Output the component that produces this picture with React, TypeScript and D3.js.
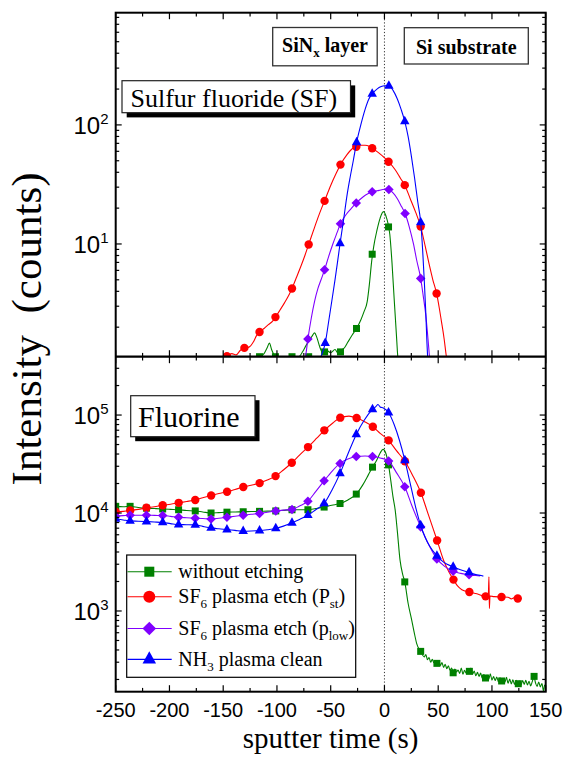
import React from "react";
import * as d3 from "d3";

type P = [number, number];

// ---------- Data (sputter time s, counts) ----------
const xTickValues = [-250, -200, -150, -100, -50, 0, 50, 100, 150];
const topDecades = [1, 2];
const botDecades = [3, 4, 5];

// Top panel: Sulfur fluoride (SF)
const sfNoEtchLine: P[] = [
  [-121, 1.0], [-117, 1.12], [-112, 1.2], [-109, 1.35], [-107, 1.47], [-105, 1.3], [-102, 1.15], [-98, 1.1],
  [-92, 1.08], [-86, 1.1], [-80, 1.12], [-76, 1.25], [-73, 1.4], [-70, 1.55], [-67, 1.7], [-65, 1.79],
  [-63, 1.65], [-60, 1.35], [-57, 1.2], [-54, 1.28], [-50, 1.22], [-46, 1.3], [-43, 1.2], [-40, 1.28],
  [-37, 1.35], [-34, 1.5], [-30, 1.72], [-26, 1.95], [-22, 2.3], [-19, 2.7], [-16, 3.3], [-14, 4.6],
  [-12, 7.0], [-10, 9.5], [-7, 13], [-4, 16.5], [-1, 18.7], [2, 16.5], [5, 12], [7, 7], [9, 3.5],
  [11, 1.8], [12.5, 1.1], [13.5, 0.9],
];
const sfNoEtchMarks: P[] = [
  [-116.2, 1.13], [-101.4, 1.13], [-86, 1.13], [-70.5, 1.13], [-55.7, 1.24], [-40.9, 1.24], [-26, 1.95],
  [-11.4, 8.2], [3.8, 13.9],
];
const sfStLine: P[] = [
  [-156, 1.0], [-150, 1.08], [-146.5, 1.14], [-142, 1.2], [-138, 1.17], [-134, 1.28], [-130.3, 1.34],
  [-126, 1.36], [-122, 1.5], [-119, 1.7], [-116.2, 1.82], [-112, 1.95], [-108, 2.1], [-104, 2.25],
  [-101.4, 2.43], [-97, 2.8], [-93, 3.2], [-89, 3.7], [-86, 4.23], [-82, 5.2], [-78, 6.4], [-74, 8.0],
  [-70.5, 9.9], [-66, 13], [-62, 16.5], [-58, 20.5], [-55.7, 23], [-50, 31], [-45, 39], [-40.9, 46.4],
  [-35, 56], [-30, 63], [-26.2, 65.6], [-22, 67.5], [-18, 67.5], [-14, 66], [-11.4, 63.6], [-5, 58],
  [0, 53], [3.8, 49.1], [10, 42], [15, 35.5], [18.9, 31.2], [24, 24], [29, 18.5], [33.7, 14], [38, 9.5],
  [42, 6.5], [45, 5], [48.5, 3.84], [51, 2.9], [53, 2.24], [55.5, 1.6], [57.5, 1.15], [59, 0.95],
];
const sfStMarks: P[] = [
  [-146.5, 1.14], [-130.3, 1.34], [-116.2, 1.82], [-101.4, 2.43], [-86, 4.23], [-70.5, 9.9], [-55.7, 23],
  [-40.9, 46.4], [-26.2, 65.6], [-11.4, 63.6], [3.8, 49.1], [18.9, 31.2], [33.7, 14], [48.5, 3.84],
];
const sfLowLine: P[] = [
  [-74.5, 1.0], [-73, 1.2], [-71.2, 1.59], [-68, 2.4], [-65, 3.3], [-62, 4.2], [-59, 5.0], [-55.7, 6.07],
  [-52, 7.8], [-48, 10], [-44, 12.5], [-40.9, 14.8], [-36, 17.5], [-31, 19.8], [-26.2, 22.1], [-20, 24.8],
  [-15, 26.5], [-11.4, 27.4], [-5, 28.2], [0, 28.8], [4.1, 28.7], [8, 26.8], [12, 24], [16, 20.5],
  [19.2, 18], [23, 14], [27, 10], [30, 7.3], [33.7, 5.14], [36, 3.7], [38.5, 2.5], [40.5, 1.6], [42, 1.1],
  [43, 0.9],
];
const sfLowMarks: P[] = [
  [-71.2, 1.59], [-55.7, 6.07], [-40.9, 14.8], [-26.2, 22.1], [-11.4, 27.4], [4.1, 28.7], [19.2, 18],
  [33.7, 5.14],
];
const sfNh3Line: P[] = [
  [-62, 1.0], [-58, 1.2], [-55.1, 1.47], [-52, 2.2], [-49, 3.3], [-46, 5], [-43.5, 7.2], [-41.3, 10.1],
  [-38, 16], [-35, 25], [-32, 36], [-29, 50], [-25.9, 71.3], [-22, 100], [-18, 135], [-14.5, 165],
  [-11.4, 182], [-7, 200], [-3, 210], [0, 213], [4.1, 213], [8, 195], [12, 165], [15.5, 135], [18.9, 107],
  [22, 80], [25, 55], [28, 36], [31, 22.5], [33.7, 15.2], [35.5, 9], [37, 5], [38.5, 2.6], [39.5, 1.5],
  [40.2, 1.1], [40.8, 0.9],
];
const sfNh3Marks: P[] = [
  [-55.1, 1.47], [-41.3, 10.1], [-25.9, 71.3], [-11.4, 182], [4.1, 213], [18.9, 107], [33.7, 15.2],
];

// Bottom panel: Fluorine
const fNoEtchLine: P[] = [
  [-250, 11700], [-243, 11600], [-236.6, 11700], [-229, 11400], [-221.4, 11200], [-214, 11100],
  [-206.3, 11000], [-199, 10900], [-191.5, 10800], [-184, 10600], [-176, 10500], [-169, 10250],
  [-161.3, 10000], [-154, 10100], [-146.5, 10200], [-139, 10250], [-131.4, 10300], [-124, 10350],
  [-116.2, 10400], [-109, 10450], [-101.1, 10500], [-94, 10650], [-86, 10800], [-79, 10800],
  [-71.2, 10800], [-64, 11100], [-56.1, 11500], [-49, 12000], [-41.3, 12500], [-34, 13600],
  [-26.2, 15600], [-20, 19500], [-15, 24500], [-11.1, 29400], [-7, 35000], [-4, 41000], [-1.3, 44600],
  [1.5, 40000], [3.8, 31000], [6, 21000], [8, 14500], [10, 10700], [12, 6500], [14.5, 3300], [17, 2350],
  [18.9, 1980], [22, 1200], [25.4, 804], [28, 580], [30, 464], [33.7, 387], [37, 340], [38.5, 360],
  [40, 318], [41.5, 335], [43, 300], [44.5, 322], [46, 296], [47.5, 310], [49, 290], [50.5, 305],
  [52, 278], [53.5, 298], [55, 265], [56.5, 285], [58, 258], [59.5, 276], [61, 248], [62.5, 262],
  [64, 234], [65.5, 256], [67, 238], [68.5, 250], [70, 230], [71.5, 262], [73, 226], [74.5, 248],
  [76, 232], [77.5, 252], [79, 238], [80.5, 262], [82, 226], [83.5, 244], [85, 218], [86.5, 236],
  [88, 215], [89.5, 232], [91, 205], [92.5, 225], [94, 207], [95.5, 222], [97, 200], [98.5, 228],
  [100, 197], [101.5, 214], [103, 195], [104.5, 212], [106, 190], [107.5, 208], [109, 193], [110.5, 204],
  [112, 186], [113.5, 210], [115, 183], [116.5, 202], [118, 180], [119.5, 198], [121, 178], [122.5, 196],
  [124, 181], [125.5, 193], [127, 175], [128.5, 195], [130, 178], [131.5, 196], [133, 176], [134.5, 192],
  [136, 172], [137.5, 190], [139, 215], [140.5, 185], [142, 170], [143.5, 188], [145, 168], [146.5, 182],
  [148, 152], [149, 175], [150, 170],
];
const fNoEtchMarks: P[] = [
  [-250, 11700], [-236.6, 11700], [-221.4, 11200], [-206.3, 11000], [-191.5, 10800], [-176, 10500],
  [-161.3, 10000], [-146.5, 10200], [-131.4, 10300], [-116.2, 10400], [-101.1, 10500], [-86, 10800],
  [-71.2, 10800], [-56.1, 11500], [-41.3, 12500], [-26.2, 15600], [-11.1, 29400], [3.8, 31000],
  [18.9, 1980], [33.7, 387], [48.8, 292], [63.9, 234], [79, 242], [94, 207], [109, 193], [124.5, 181],
  [139.2, 215],
];
const fStLine: P[] = [
  [-250, 10300], [-243, 10400], [-236.5, 10600], [-229, 10900], [-221.4, 11300], [-214, 11600],
  [-206.3, 12000], [-199, 12300], [-191.4, 12700], [-184, 13100], [-176, 13600], [-169, 14300],
  [-161.2, 15100], [-154, 15800], [-146.4, 16500], [-139, 17400], [-131.3, 18400], [-124, 19200],
  [-116.1, 20200], [-109, 21700], [-101.3, 23800], [-94, 27500], [-86.2, 32600], [-79, 39000],
  [-71.1, 47100], [-63, 58000], [-55.9, 69800], [-48, 83000], [-41.1, 94000], [-33, 97500],
  [-25.9, 93200], [-18, 85000], [-10.8, 76000], [-4, 65000], [3.9, 55100], [11, 43500], [19, 33700],
  [26, 24500], [33.9, 16100], [41, 9500], [49, 5240], [55, 3300], [60, 2500], [64.2, 2090], [68, 1800],
  [72, 1650], [79, 1560], [86, 1500], [94.1, 1410], [96.6, 1420], [97.2, 2230], [97.6, 1060], [98.2, 1420],
  [102, 1400], [108.9, 1390], [115, 1380], [118, 1330], [121, 1370], [124, 1340], [126, 1320],
];
const fStMarks: P[] = [
  [-250, 10300], [-236.5, 10600], [-221.4, 11300], [-206.3, 12000], [-191.4, 12700], [-176, 13600],
  [-161.2, 15100], [-146.4, 16500], [-131.3, 18400], [-116.1, 20200], [-101.3, 23800], [-86.2, 32600],
  [-71.1, 47100], [-55.9, 69800], [-41.1, 94000], [-25.9, 93200], [-10.8, 76000], [3.9, 55100],
  [19, 33700], [33.9, 16100], [49, 5240], [64.2, 2090], [79, 1560], [94.1, 1410], [108.9, 1390],
  [124, 1340],
];
const fLowLine: P[] = [
  [-250, 9290], [-243, 9400], [-236.6, 9500], [-229, 9500], [-221.4, 9500], [-214, 9450], [-206.3, 9420],
  [-199, 9250], [-191.5, 9060], [-184, 8950], [-176, 8850], [-169, 8780], [-161.3, 8710], [-154, 8850],
  [-146.5, 9060], [-139, 9280], [-131.4, 9500], [-124, 9700], [-116.2, 9890], [-109, 10200],
  [-101.1, 10500], [-94, 10700], [-86, 10860], [-79, 11800], [-71.2, 13200], [-64, 16500], [-56.1, 21300],
  [-49, 26500], [-41.3, 32100], [-34, 35500], [-26.2, 37800], [-18, 38200], [-11.1, 37800], [-4, 36500],
  [3.9, 34000], [11, 26000], [18.9, 18500], [26, 11500], [33.7, 7220], [41, 4800], [48.8, 3400],
  [56, 2850], [63.9, 2540], [71, 2420], [78.7, 2350], [85, 2300], [89, 2280],
];
const fLowMarks: P[] = [
  [-250, 9290], [-236.6, 9500], [-221.4, 9500], [-206.3, 9420], [-191.5, 9060], [-176, 8850],
  [-161.3, 8710], [-146.5, 9060], [-131.4, 9500], [-116.2, 9890], [-101.1, 10500], [-86, 10860],
  [-71.2, 13200], [-56.1, 21300], [-41.3, 32100], [-26.2, 37800], [-11.1, 37800], [3.9, 34000],
  [18.9, 18500], [33.7, 7220], [48.8, 3400], [63.9, 2540], [78.7, 2350],
];
const fNh3Line: P[] = [
  [-250, 8710], [-243, 8500], [-236.6, 8310], [-229, 8250], [-221.4, 8180], [-214, 8100], [-206.3, 8000],
  [-199, 7800], [-191.5, 7620], [-184, 7600], [-176, 7560], [-169, 7300], [-161.3, 7050], [-154, 6900],
  [-146.5, 6780], [-139, 6650], [-131.4, 6520], [-124, 6550], [-116.2, 6620], [-109, 6750],
  [-101.1, 6950], [-94, 7350], [-86, 7940], [-79, 8600], [-71.2, 9500], [-64, 10800], [-56.1, 12500],
  [-49, 17000], [-41.3, 25400], [-34, 40000], [-26.2, 63400], [-19, 88000], [-11.1, 114000],
  [-8, 122000], [-6, 128000], [-4, 121000], [-1, 118000], [3.8, 106000], [9, 80000], [14, 55000],
  [19, 34500], [24, 20000], [29, 11500], [33.7, 7450], [38, 5600], [42, 4600], [48.8, 3650], [55, 3150],
  [63.9, 2820], [70, 2650], [78.7, 2480], [85, 2350], [90, 2300], [92, 2270],
];
const fNh3Marks: P[] = [
  [-250, 8710], [-236.6, 8310], [-221.4, 8180], [-206.3, 8000], [-191.5, 7620], [-176, 7560],
  [-161.3, 7050], [-146.5, 6780], [-131.4, 6520], [-116.2, 6620], [-101.1, 6950], [-86, 7940],
  [-71.2, 9500], [-56.1, 12500], [-41.3, 25400], [-26.2, 63400], [-11.1, 114000], [3.8, 106000],
  [19, 34500], [33.7, 7450], [48.8, 3650], [63.9, 2820], [78.7, 2480],
];

const seriesColors = ["#008000", "#ff0000", "#8000ff", "#0000ff"];
const seriesShapes = ["square", "circle", "diamond", "triangle"];

// ---------- Layout ----------
const W = 567, H = 758;
const L = 115.7, R = 545.7;
const TOP0 = 12.7, MID = 356.7, BOT1 = 691.7;
const SERIF = "'Liberation Serif', 'Times New Roman', serif";
const SANS = "'Liberation Sans', Arial, sans-serif";

const x = d3.scaleLinear().domain([-250, 150]).range([L, R]);
const yTop = d3.scaleLog().domain([1.13, 876]).range([MID, TOP0]);
const yBot = d3.scaleLog().domain([150, 394000]).range([BOT1, MID]);

function Marker({ shape, cx, cy, s, color }: { shape: string; cx: number; cy: number; s: number; color: string }) {
  if (shape === "square") return <rect x={cx - s / 2} y={cy - s / 2} width={s} height={s} fill={color} />;
  if (shape === "circle") return <circle cx={cx} cy={cy} r={s * 0.6} fill={color} />;
  if (shape === "diamond") {
    const h = s * 0.68;
    return <path d={`M${cx},${cy - h}L${cx + h},${cy}L${cx},${cy + h}L${cx - h},${cy}Z`} fill={color} />;
  }
  const a = s * 1.35;
  return <path d={`M${cx},${cy - a * 0.6}L${cx + a / 2},${cy + a * 0.3}L${cx - a / 2},${cy + a * 0.3}Z`} fill={color} />;
}

function Series({ line, marks, y, i, clip }: { line: P[]; marks: P[]; y: any; i: number; clip: string }) {
  const gen = d3.line<P>().x(d => x(d[0])).y(d => y(d[1])).curve(d3.curveMonotoneX);
  return (
    <g clipPath={`url(#${clip})`}>
      <path d={gen(line) || ""} fill="none" stroke={seriesColors[i]} strokeWidth={1.1} />
      {marks.map((d, k) => (
        <Marker key={k} shape={seriesShapes[i]} cx={x(d[0])} cy={y(d[1])} s={7} color={seriesColors[i]} />
      ))}
    </g>
  );
}

function logTicks(domain: number[]) {
  const out: { v: number; major: boolean }[] = [];
  for (let e = Math.floor(Math.log10(domain[0])); e <= Math.ceil(Math.log10(domain[1])); e++) {
    for (let m = 1; m <= 9; m++) {
      const v = m * Math.pow(10, e);
      if (v >= domain[0] && v <= domain[1]) out.push({ v, major: m === 1 });
    }
  }
  return out;
}

function PanelAxes({ y, y0, y1, decades }: { y: any; y0: number; y1: number; decades: number[] }) {
  const xt: { v: number; major: boolean }[] = [];
  for (let v = -250; v <= 150; v += 25) xt.push({ v, major: v % 50 === 0 });
  const yt = logTicks(y.domain());
  return (
    <g stroke="#000" strokeWidth={1.2}>
      {xt.map((t, k) => {
        const len = t.major ? 6.5 : 3.8;
        const xx = x(t.v);
        return (
          <g key={k}>
            <line x1={xx} x2={xx} y1={y0} y2={y0 + len} />
            <line x1={xx} x2={xx} y1={y1} y2={y1 - len} />
          </g>
        );
      })}
      {yt.map((t, k) => {
        const len = t.major ? 6 : 3.5;
        const yy = y(t.v);
        return (
          <g key={k}>
            <line x1={L} x2={L + len} y1={yy} y2={yy} />
            <line x1={R} x2={R - len} y1={yy} y2={yy} />
          </g>
        );
      })}
      {decades.map(e => (
        <text key={e} x={108.5} y={y(Math.pow(10, e)) + 9} textAnchor="end" fontFamily={SANS} fontSize={24}
          stroke="none" fill="#000">
          10<tspan fontSize={15} dy={-10}>{e}</tspan>
        </text>
      ))}
    </g>
  );
}

function ShadowBox({ x0, y0, w, h, off, children }: any) {
  return (
    <g>
      <rect x={x0 + off} y={y0 + off} width={w} height={h} fill="#000" />
      <rect x={x0} y={y0} width={w} height={h} fill="#fff" stroke="#222" strokeWidth={1.2} />
      {children}
    </g>
  );
}

export default function App() {
  const topSeries = [
    [sfNoEtchLine, sfNoEtchMarks], [sfStLine, sfStMarks], [sfLowLine, sfLowMarks], [sfNh3Line, sfNh3Marks],
  ];
  const botSeries = [
    [fNoEtchLine, fNoEtchMarks], [fStLine, fStMarks], [fLowLine, fLowMarks], [fNh3Line, fNh3Marks],
  ];
  const legendRows = [571.7, 596.7, 628.5, 659.4];
  return (
    <svg width={W} height={H} style={{ position: "absolute", left: 0, top: 0, background: "#fff" }}>
      <defs>
        <clipPath id="clipTop"><rect x={L} y={TOP0} width={R - L} height={MID - TOP0} /></clipPath>
        <clipPath id="clipBot"><rect x={L} y={MID} width={R - L} height={BOT1 - MID} /></clipPath>
      </defs>
      <rect width={W} height={H} fill="#fff" />

      {/* zero line */}
      <line x1={x(0)} x2={x(0)} y1={TOP0} y2={BOT1} stroke="#333" strokeWidth={1} strokeDasharray="1.2,2" />

      {/* annotation boxes top */}
      <rect x={272.7} y={27.5} width={104.5} height={38.3} fill="#fff" stroke="#333" strokeWidth={1.3} />
      <text x={325} y={52} textAnchor="middle" fontFamily={SERIF} fontWeight="bold" fontSize={20}>
        SiN<tspan fontSize={13} dy={5}>x</tspan><tspan dy={-5}> layer</tspan>
      </text>
      <rect x={404.3} y={27.7} width={124} height={36.3} fill="#fff" stroke="#333" strokeWidth={1.3} />
      <text x={466.3} y={54} textAnchor="middle" fontFamily={SERIF} fontWeight="bold" fontSize={20}>Si substrate</text>

      <ShadowBox x0={122} y0={80.7} w={228.5} h={32} off={4.7}>
        <text x={130.5} y={106.5} fontFamily={SERIF} fontSize={26}>Sulfur fluoride (SF)</text>
      </ShadowBox>

      {topSeries.map((s, i) => (
        <Series key={i} line={s[0] as P[]} marks={s[1] as P[]} y={yTop} i={i} clip="clipTop" />
      ))}

      <ShadowBox x0={130.7} y0={395.7} w={124.3} h={41} off={4.5}>
        <text x={138} y={426.5} fontFamily={SERIF} fontSize={30}>Fluorine</text>
      </ShadowBox>

      {botSeries.map((s, i) => (
        <Series key={i} line={s[0] as P[]} marks={s[1] as P[]} y={yBot} i={i} clip="clipBot" />
      ))}

      {/* legend */}
      <rect x={126.7} y={555} width={229} height={122.3} fill="#fff" stroke="#000" strokeWidth={1.2} />
      {legendRows.map((ly, i) => (
        <g key={i}>
          <line x1={127.5} x2={171.7} y1={ly} y2={ly} stroke={seriesColors[i]} strokeWidth={1.1} />
          <Marker shape={seriesShapes[i]} cx={149.3} cy={ly} s={10} color={seriesColors[i]} />
        </g>
      ))}
      <g fontFamily={SERIF} fontSize={20} fill="#000">
        <text x={178.3} y={legendRows[0] + 6.5}>without etching</text>
        <text x={178.3} y={legendRows[1] + 6.5}>
          SF<tspan fontSize={13} dy={5}>6</tspan><tspan dy={-5}> plasma etch (P</tspan>
          <tspan fontSize={13} dy={5}>st</tspan><tspan dy={-5}>)</tspan>
        </text>
        <text x={178.3} y={legendRows[2] + 6.5}>
          SF<tspan fontSize={13} dy={5}>6</tspan><tspan dy={-5}> plasma etch (p</tspan>
          <tspan fontSize={13} dy={5}>low</tspan><tspan dy={-5}>)</tspan>
        </text>
        <text x={178.3} y={legendRows[3] + 6.5}>
          NH<tspan fontSize={13} dy={5}>3</tspan><tspan dy={-5}> plasma clean</tspan>
        </text>
      </g>

      <PanelAxes y={yTop} y0={TOP0} y1={MID} decades={topDecades} />
      <PanelAxes y={yBot} y0={MID} y1={BOT1} decades={botDecades} />

      {/* frames */}
      <rect x={L} y={TOP0} width={R - L} height={BOT1 - TOP0} fill="none" stroke="#000" strokeWidth={2} />
      <line x1={L} x2={R} y1={MID} y2={MID} stroke="#000" strokeWidth={2.2} />

      {/* x tick labels */}
      {xTickValues.map(v => (
        <text key={v} x={x(v)} y={716.5} textAnchor="middle" fontFamily={SANS} fontSize={20}>{v}</text>
      ))}
      <text x={330.6} y={748} textAnchor="middle" fontFamily={SERIF} fontSize={29}>sputter time (s)</text>
      <text transform="translate(41,329) rotate(-90)" textAnchor="middle" fontFamily={SERIF} fontSize={43}
        style={{ whiteSpace: "pre" }}>{"Intensity  (counts)"}</text>
    </svg>
  );
}
